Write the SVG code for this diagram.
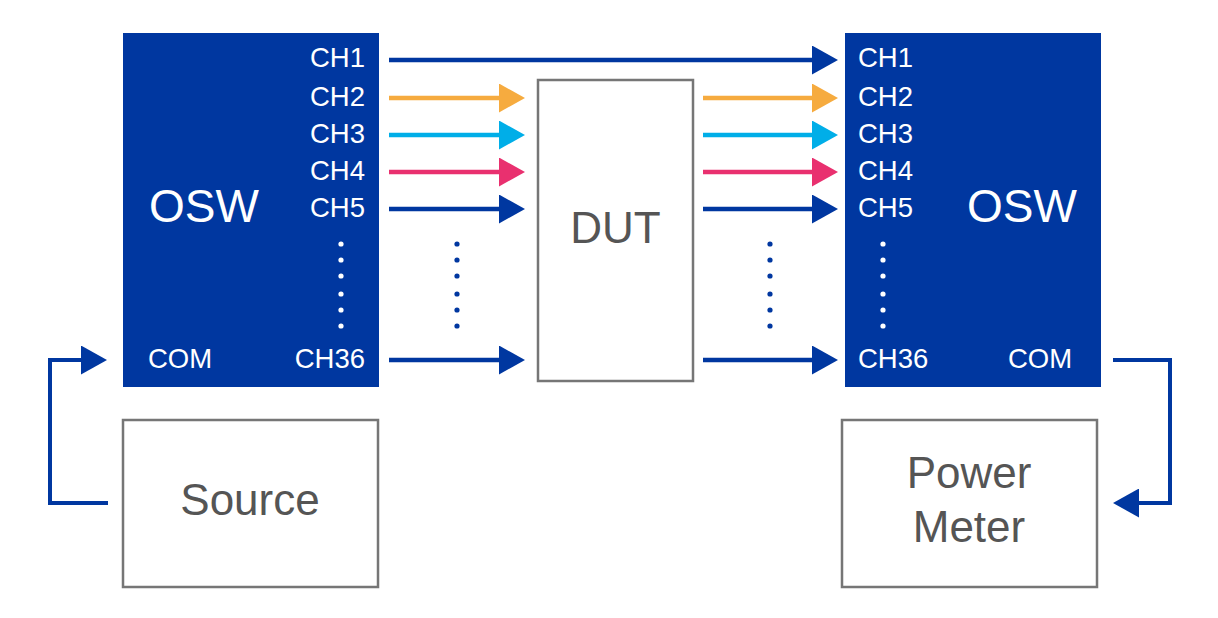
<svg xmlns="http://www.w3.org/2000/svg" width="1218" height="618" viewBox="0 0 1218 618">
<style>
.osw{fill:#0037A0}
.box{fill:#fff;stroke:#767676;stroke-width:2.5}
.ch{font-family:"Liberation Sans",Arial,sans-serif;font-size:27.5px;fill:#fff}
.big{font-family:"Liberation Sans",Arial,sans-serif;font-size:46px;fill:#fff}
.lbl{font-family:"Liberation Sans",Arial,sans-serif;font-size:44px;fill:#555}
.ln{fill:none;stroke-width:4.5}
.b{stroke:#0037A0}.o{stroke:#F6AB3F}.c{stroke:#00AEE8}.m{stroke:#E9306F}
.fb{fill:none;stroke:#0037A0;stroke-width:4}
.wd{fill:#fff}.bd{fill:#0037A0}
</style>
<defs>
<marker id="ab" markerUnits="userSpaceOnUse" markerWidth="26" markerHeight="29" refX="16" refY="14.5" orient="auto"><path d="M0,0 L26,14.5 L0,29 z" fill="#0037A0"/></marker>
<marker id="ao" markerUnits="userSpaceOnUse" markerWidth="26" markerHeight="29" refX="16" refY="14.5" orient="auto"><path d="M0,0 L26,14.5 L0,29 z" fill="#F6AB3F"/></marker>
<marker id="ac" markerUnits="userSpaceOnUse" markerWidth="26" markerHeight="29" refX="16" refY="14.5" orient="auto"><path d="M0,0 L26,14.5 L0,29 z" fill="#00AEE8"/></marker>
<marker id="am" markerUnits="userSpaceOnUse" markerWidth="26" markerHeight="29" refX="16" refY="14.5" orient="auto"><path d="M0,0 L26,14.5 L0,29 z" fill="#E9306F"/></marker>
</defs>

<g id="osw-left">
<rect class="osw" x="123" y="33" width="256" height="354"/>
<text class="big" x="149" y="222">OSW</text>
<g class="ch" text-anchor="end">
<text x="365" y="67">CH1</text>
<text x="365" y="106">CH2</text>
<text x="365" y="143">CH3</text>
<text x="365" y="180">CH4</text>
<text x="365" y="217">CH5</text>
<text x="365" y="368">CH36</text>
</g>
<text class="ch" x="148" y="368">COM</text>
<g class="wd">
<circle cx="341" cy="244" r="2.6"/><circle cx="341" cy="260" r="2.6"/><circle cx="341" cy="276" r="2.6"/><circle cx="341" cy="294" r="2.6"/><circle cx="341" cy="310" r="2.6"/><circle cx="341" cy="326" r="2.6"/>
</g>
</g>

<g id="osw-right">
<rect class="osw" x="845" y="33" width="256" height="354"/>
<text class="big" x="967" y="222">OSW</text>
<g class="ch">
<text x="858" y="67">CH1</text>
<text x="858" y="106">CH2</text>
<text x="858" y="143">CH3</text>
<text x="858" y="180">CH4</text>
<text x="858" y="217">CH5</text>
<text x="858" y="368">CH36</text>
</g>
<text class="ch" x="1008" y="368">COM</text>
<g class="wd">
<circle cx="883" cy="244" r="2.6"/><circle cx="883" cy="260" r="2.6"/><circle cx="883" cy="276" r="2.6"/><circle cx="883" cy="294" r="2.6"/><circle cx="883" cy="310" r="2.6"/><circle cx="883" cy="326" r="2.6"/>
</g>
</g>

<g id="dut">
<rect class="box" x="538" y="80" width="155" height="301"/>
<text class="lbl" x="615.5" y="243" text-anchor="middle">DUT</text>
</g>

<g id="source">
<rect class="box" x="123" y="420" width="255" height="167"/>
<text class="lbl" x="250" y="515" text-anchor="middle">Source</text>
</g>

<g id="power-meter">
<rect class="box" x="842" y="420" width="255" height="167"/>
<text class="lbl" x="969" y="488" text-anchor="middle">Power</text>
<text class="lbl" x="969" y="542" text-anchor="middle">Meter</text>
</g>

<g id="connectors">
<line class="ln b" x1="389" y1="60" x2="828" y2="60" marker-end="url(#ab)"/>
<line class="ln o" x1="389" y1="98" x2="515" y2="98" marker-end="url(#ao)"/>
<line class="ln c" x1="389" y1="135" x2="515" y2="135" marker-end="url(#ac)"/>
<line class="ln m" x1="389" y1="172" x2="515" y2="172" marker-end="url(#am)"/>
<line class="ln b" x1="389" y1="209" x2="515" y2="209" marker-end="url(#ab)"/>
<line class="ln b" x1="389" y1="360" x2="515" y2="360" marker-end="url(#ab)"/>
<line class="ln o" x1="703" y1="98" x2="828" y2="98" marker-end="url(#ao)"/>
<line class="ln c" x1="703" y1="135" x2="828" y2="135" marker-end="url(#ac)"/>
<line class="ln m" x1="703" y1="172" x2="828" y2="172" marker-end="url(#am)"/>
<line class="ln b" x1="703" y1="209" x2="828" y2="209" marker-end="url(#ab)"/>
<line class="ln b" x1="703" y1="360" x2="828" y2="360" marker-end="url(#ab)"/>
<path class="fb" d="M108,503 H50 V360 H97" marker-end="url(#ab)"/>
<path class="fb" d="M1113,360 H1170 V503 H1123" marker-end="url(#ab)"/>
<g class="bd">
<circle cx="457" cy="244" r="2.6"/><circle cx="457" cy="260" r="2.6"/><circle cx="457" cy="276" r="2.6"/><circle cx="457" cy="294" r="2.6"/><circle cx="457" cy="310" r="2.6"/><circle cx="457" cy="326" r="2.6"/>
<circle cx="770" cy="244" r="2.6"/><circle cx="770" cy="260" r="2.6"/><circle cx="770" cy="276" r="2.6"/><circle cx="770" cy="294" r="2.6"/><circle cx="770" cy="310" r="2.6"/><circle cx="770" cy="326" r="2.6"/>
</g>
</g>
</svg>
